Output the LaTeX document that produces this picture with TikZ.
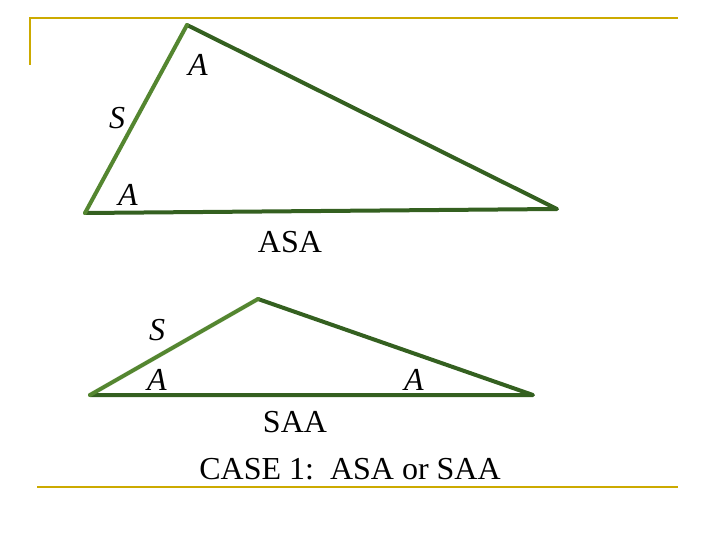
\documentclass[tikz,border=0pt]{standalone}
\usepackage{fontspec}
\setmainfont{Liberation Serif}
\definecolor{gold}{RGB}{204,170,0}
\definecolor{dgreen}{RGB}{52,96,32}
\definecolor{lgreen}{RGB}{84,134,48}
\begin{document}
\begin{tikzpicture}[x=1pt,y=-1pt,
  frame/.style={gold,line width=2.5pt},
  side/.style={dgreen,line width=4pt,line cap=round,line join=round},
  lside/.style={lgreen,line width=4pt,line cap=round},
  lab/.style={font=\fontsize{32}{36}\selectfont\itshape,inner sep=0pt},
  txt/.style={font=\fontsize{32}{36}\selectfont,inner sep=0pt}]
\useasboundingbox (0,0) rectangle (720,540);
\coordinate (f1) at (30,65); \coordinate (f2) at (30,18); \coordinate (f3) at (678,18);
\coordinate (g1) at (37,487); \coordinate (g2) at (678,487);
\draw[frame] (f1) -- (f2) -- (f3);
\draw[frame] (g1) -- (g2);
\coordinate (t1a) at (187,25); \coordinate (t1b) at (85,213); \coordinate (t1c) at (557,209);
\draw[side] (t1b) -- (t1c) -- (t1a);
\draw[lside] (t1a) -- (t1b);
\coordinate (t2a) at (90,395); \coordinate (t2b) at (258,299); \coordinate (t2c) at (533,395);
\draw[side] (t2b) -- (t2c) -- (t2a);
\draw[lside] (t2a) -- (t2b);
\node[lab] (a1) at (198,65) {A};
\node[lab] (s1) at (117,118) {S};
\node[lab] (a2) at (128,195) {A};
\node[txt] (asa) at (290,242) {ASA};
\node[lab] (s2) at (157,330) {S};
\node[lab] (a3) at (157,380) {A};
\node[lab] (a4) at (414,380) {A};
\node[txt] (saa) at (295,422) {SAA};
\node[txt] (case) at (350,469) {CASE 1:\ \ ASA or SAA};
\end{tikzpicture}
\end{document}
